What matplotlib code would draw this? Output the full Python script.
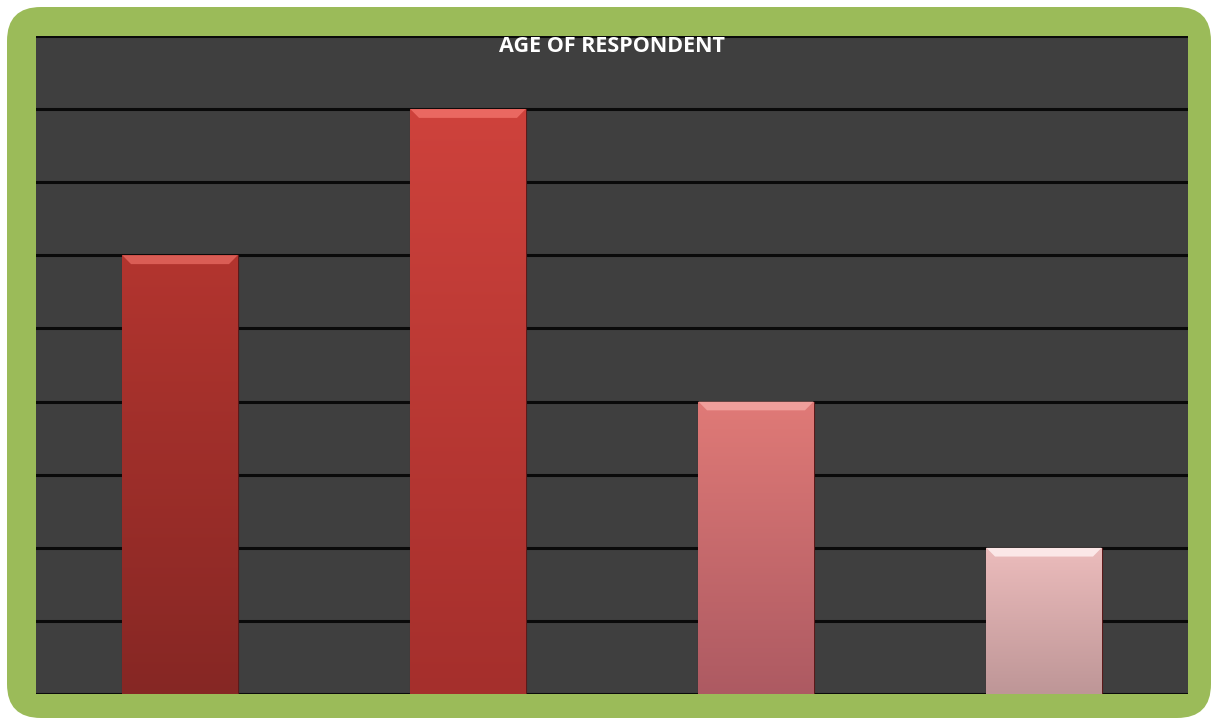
import numpy as np
import matplotlib
matplotlib.use("Agg")
import matplotlib.pyplot as plt
from matplotlib.patches import FancyBboxPatch, Polygon
from matplotlib.colors import LinearSegmentedColormap

# data (gridline units)
categories = ["Group 1", "Group 2", "Group 3", "Group 4"]
values = [6, 8, 4, 2]
top_colors = ["#b3352f", "#ce423c", "#e07a77", "#ecbcbc"]
bottom_colors = ["#862724", "#a52f2c", "#ad5a62", "#be9697"]
shine_colors = ["#e2655d", "#f07068", "#f4a6a2", "#fff0f0"]
title = "AGE OF RESPONDENT"

W, H = 1212, 719
fig = plt.figure(figsize=(W / 100, H / 100), dpi=100)
fig.patch.set_facecolor("white")

# green rounded frame
frame = FancyBboxPatch((7 / W, 1 / H), (W - 8) / W, (H - 8) / H,
                       boxstyle="round,pad=0,rounding_size=0.028",
                       transform=fig.transFigure, facecolor="#9bbb59",
                       edgecolor="none", mutation_aspect=W / H, zorder=-5)
fig.patches.append(frame)

ax = fig.add_axes([36 / W, 1 - 694 / H, (1188 - 36) / W, (694 - 36) / H])
ax.set_zorder(2)
ax.set_facecolor("#3f3f3f")
for s in ax.spines.values():
    s.set_visible(False)

ymax = 9
for y in range(0, ymax + 1):
    ax.axhline(y, color="#0a0a0a", lw=2.2, zorder=1)

x = np.arange(len(categories))
width = 0.4
bars = ax.bar(x, values, width, color=top_colors, edgecolor="#5a1a1a",
              linewidth=0.8, zorder=2)

grad = np.linspace(1, 0, 256).reshape(-1, 1)
for i, b in enumerate(bars):
    cmap = LinearSegmentedColormap.from_list("g", [bottom_colors[i], top_colors[i]])
    x0 = b.get_x()
    x1 = x0 + b.get_width()
    h = b.get_height()
    im = ax.imshow(grad, extent=[x0, x1, 0, h], aspect="auto", cmap=cmap,
                   vmin=0, vmax=1, zorder=3)
    im.set_clip_path(b)
    # bevel highlight at the top
    d = 0.12
    dx = 0.03
    shine = Polygon([[x0, h], [x1, h], [x1 - dx, h - d], [x0 + dx, h - d]],
                    closed=True, facecolor=shine_colors[i], edgecolor="none",
                    alpha=0.85, zorder=4)
    ax.add_patch(shine)

ax.set_xlim(-0.5, len(categories) - 0.5)
ax.set_ylim(0, ymax)
ax.set_xticks([])
ax.set_yticks([])

fig.text(612 / W, 1 - 46 / H, title, ha="center", va="center", color="white",
         fontsize=15.5, fontweight="bold", family="Open Sans", zorder=10)

fig.savefig("out.png", dpi=100, facecolor=fig.get_facecolor())
